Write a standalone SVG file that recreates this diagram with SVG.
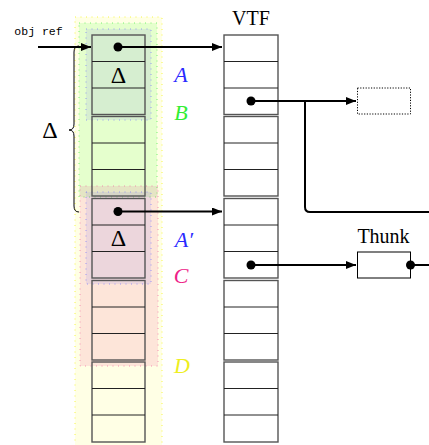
<svg xmlns="http://www.w3.org/2000/svg" width="429" height="445" viewBox="0 0 429 445">
  <defs>
    <marker id="tip" viewBox="0 0 10 8" refX="10" refY="4" markerWidth="10" markerHeight="8" markerUnits="userSpaceOnUse" orient="auto">
      <path d="M0,0 L10,4 L0,8 Z" fill="#000"/>
    </marker>
    <style>
      .cell { fill: none; stroke: #222; stroke-width: 1; }
      .blk { fill: none; stroke: #555; stroke-width: 1.4; }
      .wire { fill: none; stroke: #000; stroke-width: 2; }
      .dot { fill: #000; }
      .lbl { font-family: "Liberation Serif", "DejaVu Serif", serif; font-style: italic; font-size: 22px; text-anchor: middle; }
      .delta { font-family: "Liberation Serif", "DejaVu Serif", serif; font-size: 24px; text-anchor: middle; }
      .head { font-family: "Liberation Serif", "DejaVu Serif", serif; font-size: 20px; text-anchor: middle; }
      .reg { stroke-width: 1; stroke-dasharray: 1 4.5; stroke-opacity: 0.7; }
    </style>
  </defs>

  <!-- translucent layout regions behind the object -->
  <g id="regions">
    <rect class="reg" x="75" y="17" width="87" height="430" fill="#ffff00" fill-opacity="0.1" stroke="#f2f200"/>
    <rect class="reg" x="79" y="23" width="78" height="174" fill="#00ff00" fill-opacity="0.1" stroke="#44ee44"/>
    <rect class="reg" x="80" y="186" width="78" height="180" fill="#eb0078" fill-opacity="0.1" stroke="#f06aa0"/>
    <rect class="reg" x="86" y="29" width="65" height="91" fill="#2020ff" fill-opacity="0.08" stroke="#7777ff"/>
    <rect class="reg" x="86" y="192" width="65" height="92" fill="#2020ff" fill-opacity="0.08" stroke="#7777ff"/>
  </g>

  <!-- object layout: five blocks of three slots -->
  <g id="object">
    <rect class="blk" x="92" y="35" width="53" height="79.5"/>
    <rect class="blk" x="92" y="116.5" width="53" height="79.5"/>
    <rect class="blk" x="92" y="198.5" width="53" height="79.5"/>
    <rect class="blk" x="92" y="280.5" width="53" height="79.5"/>
    <rect class="blk" x="92" y="362" width="53" height="80"/>
    <path class="cell" d="M92,61.5H145M92,88H145M92,143H145M92,169.5H145M92,225H145M92,251.5H145M92,307H145M92,333.5H145M92,388.5H145M92,415H145"/>
    <text class="delta" x="118.5" y="83">Δ</text>
    <text class="delta" x="118.5" y="246">Δ</text>
  </g>

  <!-- VTF table -->
  <g id="vtf">
    <text class="head" x="251" y="25">VTF</text>
    <rect class="blk" x="224" y="35" width="54" height="79.5"/>
    <rect class="blk" x="224" y="116.5" width="54" height="79.5"/>
    <rect class="blk" x="224" y="198.5" width="54" height="79.5"/>
    <rect class="blk" x="224" y="280.5" width="54" height="79.5"/>
    <rect class="blk" x="224" y="362" width="54" height="80"/>
    <path class="cell" d="M224,61.5H278M224,88H278M224,143H278M224,169.5H278M224,225H278M224,251.5H278M224,307H278M224,333.5H278M224,388.5H278M224,415H278"/>
  </g>

  <!-- targets -->
  <g id="target">
    <rect x="357.5" y="88" width="53" height="26" fill="none" stroke="#000" stroke-width="1" stroke-dasharray="1.2 1.5"/>
  </g>
  <g id="thunk">
    <text class="head" x="383.5" y="243">Thunk</text>
    <rect x="357.5" y="252" width="53" height="26" fill="none" stroke="#000" stroke-width="1"/>
  </g>

  <!-- labels -->
  <g id="labels">
    <text class="lbl" x="181" y="82" fill="#2a2aff">A</text>
    <text class="lbl" x="181" y="120" fill="#33ee33">B</text>
    <text class="lbl" x="184" y="247" fill="#2a2aff">A′</text>
    <text class="lbl" x="181" y="283" fill="#ee2288">C</text>
    <text class="lbl" x="182" y="373" fill="#eeee22">D</text>
    <text x="38.5" y="35" font-family="Liberation Mono, DejaVu Sans Mono, monospace" font-size="11.5" text-anchor="middle">obj ref</text>
    <text class="delta" x="50" y="138" font-size="24">Δ</text>
  </g>

  <!-- connectors -->
  <g id="connectors">
    <path class="wire" d="M38,47H91" marker-end="url(#tip)"/>
    <path d="M79,46 Q74,46 74,52 L74,124 Q74,130 69,130 Q74,130 74,136 L74,206 Q74,212 79,212" fill="none" stroke="#000" stroke-width="1"/>
    <path class="wire" d="M118,47H222" marker-end="url(#tip)"/>
    <circle class="dot" cx="118" cy="47" r="4.5"/>
    <path class="wire" d="M118,211.5H222" marker-end="url(#tip)"/>
    <circle class="dot" cx="118" cy="211.5" r="4.5"/>
    <path class="wire" d="M251,101H356" marker-end="url(#tip)"/>
    <path class="wire" d="M305,101V207 Q305,212 310,212H429"/>
    <circle class="dot" cx="251" cy="101" r="4.5"/>
    <path class="wire" d="M251,265H356" marker-end="url(#tip)"/>
    <circle class="dot" cx="251" cy="265" r="4.5"/>
    <path class="wire" d="M410.5,265H429"/>
    <circle class="dot" cx="410.5" cy="265" r="4.5"/>
  </g>
</svg>
